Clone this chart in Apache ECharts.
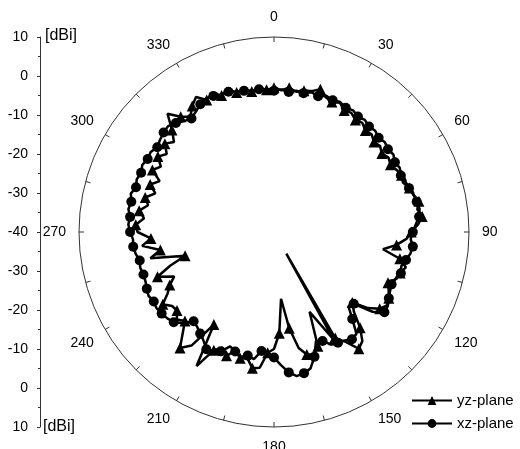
<!DOCTYPE html>
<html>
<head>
<meta charset="utf-8">
<title>Radiation pattern</title>
<script src="https://cdn.jsdelivr.net/npm/echarts@6/dist/echarts.min.js"></script>
<style>
  html, body { margin: 0; padding: 0; background: #fff; }
  #chart { width: 520px; height: 449px; }
</style>
</head>
<body>
<div id="chart"></div>
<script>
// Measurement angles (degrees, clockwise from 0 at the top)
var xzAngles = [
  0, 3, 6, 9, 12, 15, 18, 21, 24, 27, 30, 33, 36, 39, 42, 45, 48, 51, 54, 57,
  60, 63, 66, 69, 72, 75, 78, 81, 84, 87, 90, 93, 96, 99, 102, 105, 108, 111, 114, 117,
  120, 123, 126, 129, 132, 135, 138, 141, 144, 147, 150, 153, 156, 159, 162, 165, 168, 171, 174, 177,
  180, 183, 186, 189, 192, 195, 198, 201, 204, 207, 210, 213, 216, 219, 222, 225, 228, 231, 234, 237,
  240, 243, 246, 249, 252, 255, 258, 261, 264, 267, 270, 273, 276, 279, 282, 285, 288, 291, 294, 297,
  300, 303, 306, 309, 312, 315, 318, 321, 324, 327, 330, 333, 336, 339, 342, 345, 348, 351, 354, 357
];
// xz-plane gain [dBi]
var xzGain = [
  -3.8, -3.4, -3.9, -3.3, -3.6, -2.9, -3.4, -2.6, -3.0, -2.6, -3.2, -2.8, -3.4, -3.0, -3.6, -3.3, -3.9, -3.4, -3.9, -3.5,
  -4.2, -3.8, -4.4, -3.9, -3.6, -3.0, -2.6, -2.2, -2.6, -3.6, -4.4, -4.9, -4.2, -4.6, -5.4, -6.2, -5.8, -6.6, -7.0, -6.6,
  -6.0, -5.2, -5.0, -7.5, -12.5, -13.0, -10.0, -6.4, -6.0, -6.8, -7.2, -7.6, -9.4, -10.0, -6.4, -3.8, -3.0, -2.6, -3.8, -5.8,
  -7.8, -9.0, -9.3, -7.0, -7.6, -6.8, -7.8, -8.6, -6.5, -5.7, -5.3, -6.8, -7.8, -8.7, -9.2, -7.0, -5.4, -4.8, -4.4, -4.1,
  -4.4, -3.9, -4.3, -4.7, -4.8, -4.5, -4.8, -4.1, -3.7, -3.8, -3.1, -2.6, -2.9, -2.2, -2.6, -2.0, -2.8, -2.3, -2.7, -2.1,
  -2.6, -2.3, -3.0, -2.4, -1.9, -1.6, -2.4, -3.4, -4.0, -3.2, -2.2, -1.6, -1.8, -2.4, -2.2, -2.8, -3.0, -3.4, -3.2, -3.7
];

var yzAngles = [
  0, 3, 6, 9, 12, 15, 18, 21, 24, 27, 30, 33, 36, 39, 42, 45, 48, 51, 54, 57,
  60, 63, 66, 69, 72, 75, 78, 81, 84, 87, 90, 93, 96, 99, 102, 105, 108, 111, 114, 117,
  120, 123, 126, 129, 132, 135, 138, 141, 144, 147, 150, 150.5, 151, 156, 159, 162, 165, 168, 171, 174, 177,
  180, 183, 186, 189, 192, 195, 198, 201, 204, 207, 210, 213, 216, 219, 222, 225, 228, 231, 234, 237,
  240, 243, 246, 249, 252, 255, 258, 261, 264, 267, 270, 273, 276, 279, 282, 285, 288, 291, 294, 297,
  300, 303, 306, 309, 312, 315, 318, 321, 324, 327, 330, 333, 336, 339, 342, 345, 348, 351, 354, 357
];
// yz-plane gain [dBi]
var yzGain = [
  -3.0, -3.6, -2.8, -3.6, -3.0, -2.6, -1.5, -3.0, -3.5, -2.8, -4.0, -3.6, -4.5, -4.0, -5.0, -4.6, -5.5, -5.0, -5.8, -5.0,
  -5.5, -4.8, -4.2, -4.6, -3.5, -3.0, -2.0, -2.8, -1.8, -3.0, -4.8, -6.0, -8.4, -11.7, -7.0, -5.0, -6.0, -6.4, -8.0, -7.0,
  -6.0, -5.5, -6.5, -9.0, -13.0, -11.0, -7.0, -4.0, -3.0, -6.5, -8.6, -33.6, -8.4, -17.6, -8.6, -7.0, -7.5, -9.6, -15.0, -22.8, -14.0,
  -10.0, -9.0, -5.0, -4.6, -7.0, -6.5, -8.0, -6.0, -7.5, -6.0, -0.3, -11.7, -4.0, -1.7, -5.0, -7.7, -6.5, -8.0, -7.7, -6.0,
  -8.5, -10.0, -12.0, -8.0, -12.0, -16.4, -7.6, -10.5, -6.0, -8.4, -5.0, -4.5, -6.5, -5.0, -7.0, -5.8, -8.0, -6.0, -7.9, -5.0,
  -6.5, -4.5, -6.0, -4.0, -5.5, -3.0, 0.8, -2.0, -3.5, -1.5, 0.0, -2.0, -1.0, -2.5, -1.5, -3.0, -2.5, -3.5, -2.8, -3.5
];

// Gain scale of the polar plot and of the mirrored side scale
var gainMin = -40;
var gainMax = 10;
var angleLabels = ['0', '30', '60', '90', '120', '150', '180', '210', '240', '270', '300', '330'];

// Build a closed trace: markers on every other sample
function buildTrace(angles, gains) {
  var pts = [];
  for (var i = 0; i < angles.length; i++) {
    var item = { value: [gains[i], angles[i]] };
    if (i % 2 === 1) item.symbol = 'none';
    pts.push(item);
  }
  pts.push({ value: [gains[0], 360], symbol: 'none' });
  return pts;
}

var FONT = 'Liberation Sans, Arial, sans-serif';
var chart = echarts.init(document.getElementById('chart'), null, { renderer: 'canvas' });

chart.setOption({
  animation: false,
  backgroundColor: '#fff',
  polar: { center: [274, 232], radius: 195 },
  angleAxis: {
    type: 'value',
    min: 0,
    max: 360,
    interval: 15,
    startAngle: 90,
    clockwise: true,
    axisLine: { show: true, lineStyle: { color: '#333', width: 1 } },
    axisTick: { show: true, inside: true, length: 5, lineStyle: { color: '#333', width: 1 } },
    splitLine: { show: false },
    axisLabel: {
      margin: 13,
      fontFamily: FONT,
      fontSize: 14,
      color: '#000',
      formatter: function (v) {
        if (v % 30 !== 0 || v >= 360) return '';
        return angleLabels[v / 30];
      }
    }
  },
  radiusAxis: {
    type: 'value',
    min: gainMin,
    max: gainMax,
    axisLine: { show: false },
    axisTick: { show: false },
    axisLabel: { show: false },
    splitLine: { show: false }
  },
  grid: { left: 40, top: 37, width: 10, height: 390 },
  xAxis: { type: 'value', show: false, min: 0, max: 1 },
  yAxis: {
    type: 'value',
    min: -(gainMax - gainMin),
    max: gainMax - gainMin,
    interval: 10,
    axisLine: { show: true, lineStyle: { color: '#333', width: 1 } },
    axisTick: { show: true, length: 3, lineStyle: { color: '#333' } },
    minorTick: { show: true, splitNumber: 2, length: 2, lineStyle: { color: '#333' } },
    splitLine: { show: false },
    axisLabel: {
      margin: 12,
      fontFamily: FONT,
      fontSize: 14,
      color: '#000',
      formatter: function (v) { return String(Math.abs(v) + gainMin); }
    }
  },
  graphic: [
    { type: 'text', left: 45, top: 28, style: { text: '[dBi]', font: '16px ' + FONT, fill: '#000' } },
    { type: 'text', left: 43, top: 419, style: { text: '[dBi]', font: '16px ' + FONT, fill: '#000' } }
  ],
  legend: {
    orient: 'vertical',
    left: 406,
    top: 388,
    itemWidth: 40,
    itemHeight: 11,
    itemGap: 8,
    data: ['yz-plane', 'xz-plane'],
    textStyle: { fontFamily: FONT, fontSize: 15, color: '#000' }
  },
  series: [
    {
      name: 'yz-plane',
      type: 'line',
      coordinateSystem: 'polar',
      data: buildTrace(yzAngles, yzGain),
      symbol: 'triangle',
      symbolSize: 11,
      showAllSymbol: true,
      lineStyle: { color: '#000', width: 2.5 },
      itemStyle: { color: '#000' }
    },
    {
      name: 'xz-plane',
      type: 'line',
      coordinateSystem: 'polar',
      data: buildTrace(xzAngles, xzGain),
      symbol: 'circle',
      symbolSize: 10,
      showAllSymbol: true,
      lineStyle: { color: '#000', width: 2.5 },
      itemStyle: { color: '#000' }
    }
  ]
});
</script>
</body>
</html>
